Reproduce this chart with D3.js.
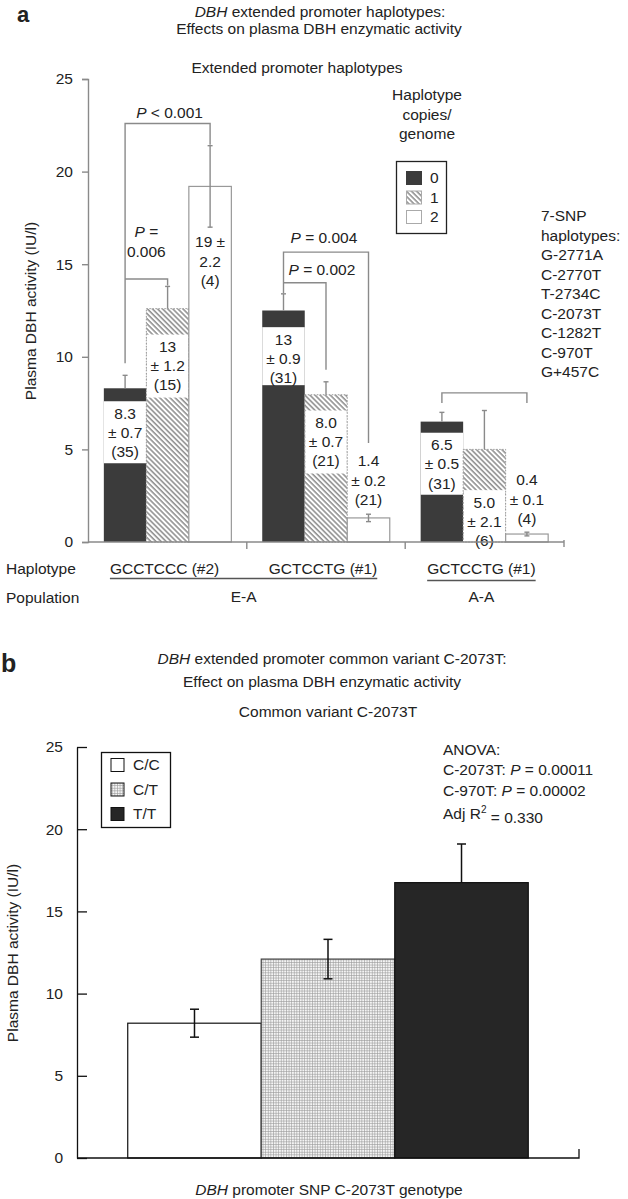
<!DOCTYPE html>
<html>
<head>
<meta charset="utf-8">
<script src="https://cdn.jsdelivr.net/npm/d3@7"></script>
<style>
  html, body { margin: 0; padding: 0; background: #fff; }
  svg { display: block; }
  text { font-family: "Liberation Sans", Arial, Helvetica, sans-serif; fill: #222; }
</style>
</head>
<body>
<svg id="chart" width="628" height="1199"></svg>
<script>
// ---------------- DATA ----------------
// Panel a
const haplotypes = ["GCCTCCC (#2)", "GCTCCTG (#1)", "GCTCCTG (#1)"];
const populations = [{ name: "E-A", groups: [0, 1] }, { name: "A-A", groups: [2] }];
const copies = ["0", "1", "2"];
const meansA = [[8.3, 12.6, 19.2], [12.5, 7.95, 1.3], [6.5, 5.0, 0.43]];
const semA = [[0.7, 1.2, 2.2], [0.9, 0.7, 0.2], [0.5, 2.1, 0.1]];
const meanLabels = [["8.3", "13", "19"], ["13", "8.0", "1.4"], ["6.5", "5.0", "0.4"]];
const semLabels = [["0.7", "1.2", "2.2"], ["0.9", "0.7", "0.2"], ["0.5", "2.1", "0.1"]];
const nLabels = [["(35)", "(15)", "(4)"], ["(31)", "(21)", "(21)"], ["(31)", "(6)", "(4)"]];
const pLabels = ["< 0.001", "= 0.006", "= 0.004", "= 0.002", ""];
const snpList = ["7-SNP", "haplotypes:", "G-2771A", "C-2770T", "T-2734C", "C-2073T", "C-1282T", "C-970T", "G+457C"];
const yTicks = [0, 5, 10, 15, 20, 25];

// Panel b
const genotypes = ["C/C", "C/T", "T/T"];
const meansB = [8.2, 12.1, 16.75];
const semB = [0.85, 1.2, 2.35];
const anovaLines = ["ANOVA:", "C-2073T: P = 0.00011", "C-970T: P = 0.00002", "Adj R2 = 0.330"];

// ---------------- LAYOUT ----------------
const FS = 15.5;
const svg = d3.select("#chart");
const defs = svg.append("defs");

defs.append("pattern").attr("id", "hatch").attr("patternUnits", "userSpaceOnUse")
  .attr("width", 3.6).attr("height", 3.6).attr("patternTransform", "rotate(-45)")
  .call(p => {
    p.append("rect").attr("width", 3.6).attr("height", 3.6).attr("fill", "#fff");
    p.append("line").attr("x1", 1).attr("y1", 0).attr("x2", 1).attr("y2", 3.6)
      .attr("stroke", "#8a8a8a").attr("stroke-width", 1.5);
  });
defs.append("pattern").attr("id", "grid").attr("patternUnits", "userSpaceOnUse")
  .attr("width", 2.6).attr("height", 2.6)
  .call(p => {
    p.append("rect").attr("width", 2.6).attr("height", 2.6).attr("fill", "#f4f4f4");
    p.append("path").attr("d", "M0,0.3H2.6M0.3,0V2.6").attr("stroke", "#9a9a9a").attr("stroke-width", 0.7);
  });

const grayLine = "#8a8a8a";
const darkFill = "#3b3b3b";
const fillA = ["#3b3b3b", "url(#hatch)", "#fff"];

function txt(g, x, y, s, opts = {}) {
  const t = g.append("text").attr("x", x).attr("y", y).attr("dy", "0.35em")
    .attr("font-size", opts.fs || FS).attr("text-anchor", opts.anchor || "middle");
  if (opts.weight) t.attr("font-weight", opts.weight);
  if (opts.italic) t.attr("font-style", "italic");
  t.text(s);
  return t;
}
function pText(g, x, y, rest, anchor) {
  const t = g.append("text").attr("x", x).attr("y", y).attr("dy", "0.35em")
    .attr("font-size", FS).attr("text-anchor", anchor || "middle");
  t.append("tspan").attr("font-style", "italic").text("P");
  t.append("tspan").text(" " + rest);
  return t;
}

// ================= PANEL A =================
const gA = svg.append("g");
const yA = d3.scaleLinear().domain([0, 25]).range([542, 79]);
const xG = d3.scaleBand().domain([0, 1, 2]).range([88, 564]).paddingInner(0.195).paddingOuter(0.1);
const xC = d3.scaleBand().domain(copies).range([0, xG.bandwidth()]);
const bw = xC.bandwidth();
const cx = (g, c) => xG(g) + xC(copies[c]) + bw / 2;

// titles
gA.append("text").attr("x", 17).attr("y", 22).attr("font-size", 22).attr("font-weight", "bold")
  .attr("text-anchor", "start").text("a");
{
  const t = gA.append("text").attr("x", 320).attr("y", 12).attr("dy", "0.35em")
    .attr("font-size", FS).attr("text-anchor", "middle");
  t.append("tspan").attr("font-style", "italic").text("DBH");
  t.append("tspan").text(" extended promoter haplotypes:");
}
txt(gA, 319, 29, "Effects on plasma DBH enzymatic activity");
txt(gA, 297, 68, "Extended promoter haplotypes");

// label box layout (value units: top of white box inside bar), and text start for white bars
const boxTop = [[7.6, 11.2, null], [11.6, 7.1, null], [5.9, 2.8, null]];
const whiteTextY = [[null, null, 16.2], [null, null, 4.37], [null, null, 3.35]];
const boxH = [[62, 63, 0], [58, 63, 0], [62, 58, 0]];

// bars
meansA.forEach((row, g) => {
  row.forEach((v, c) => {
    const x0 = xG(g) + xC(copies[c]);
    gA.append("rect").attr("x", x0).attr("y", yA(v)).attr("width", bw)
      .attr("height", yA(0) - yA(v)).attr("fill", fillA[c]);
    if (boxTop[g][c] !== null) {
      gA.append("rect").attr("x", x0 + (c === 1 ? 0.5 : 0)).attr("y", yA(boxTop[g][c]))
        .attr("width", bw - (c === 1 ? 1 : 0)).attr("height", boxH[g][c]).attr("fill", "#fff");
    }
    if (c === 1) {
      gA.append("rect").attr("x", x0).attr("y", yA(v)).attr("width", bw)
        .attr("height", yA(0) - yA(v)).attr("fill", "none").attr("stroke", "#999")
        .attr("stroke-width", 1).attr("stroke-dasharray", "1.5,1.5");
    } else if (c === 2) {
      gA.append("rect").attr("x", x0).attr("y", yA(v)).attr("width", bw)
        .attr("height", yA(0) - yA(v)).attr("fill", "none").attr("stroke", "#999").attr("stroke-width", 1.2);
    }
  });
});

// error bars
meansA.forEach((row, g) => {
  row.forEach((v, c) => {
    const x = cx(g, c), s = semA[g][c];
    const lo = c === 2 ? v - s : v;
    gA.append("line").attr("x1", x).attr("x2", x).attr("y1", yA(v + s)).attr("y2", yA(lo))
      .attr("stroke", grayLine).attr("stroke-width", 1.4);
    gA.append("line").attr("x1", x - 2.5).attr("x2", x + 2.5).attr("y1", yA(v + s)).attr("y2", yA(v + s))
      .attr("stroke", grayLine).attr("stroke-width", 1.4);
    if (c === 2) {
      gA.append("line").attr("x1", x - 2.5).attr("x2", x + 2.5).attr("y1", yA(lo)).attr("y2", yA(lo))
        .attr("stroke", grayLine).attr("stroke-width", 1.4);
    }
  });
});

// value labels
meansA.forEach((row, g) => {
  row.forEach((v, c) => {
    const x = cx(g, c);
    let y0;
    const lines = c === 2 && g === 0
      ? [meanLabels[g][c] + " \u00b1", semLabels[g][c], nLabels[g][c]]
      : [meanLabels[g][c], "\u00b1 " + semLabels[g][c], nLabels[g][c]];
    if (boxTop[g][c] !== null) y0 = yA(boxTop[g][c]) + 12;
    else y0 = yA(whiteTextY[g][c]);
    lines.forEach((s, i) => txt(gA, x, y0 + i * 19.2, s));
  });
});

// significance brackets (value units)
const brackets = [
  { g: 0, a: 0, b: 2, top: 22.6, aEnd: 9.65, bEnd: 21.45 },
  { g: 0, a: 0, b: 1, top: 14.2, aEnd: null, bEnd: 13.85 },
  { g: 1, a: 0, b: 2, top: 15.65, aEnd: 13.45, bEnd: 5.35 },
  { g: 1, a: 0, b: 1, top: 14.0, aEnd: null, bEnd: 9.3 },
  { g: 2, a: 0, b: 2, top: 8.05, aEnd: 7.5, bEnd: 7.5 }
];
brackets.forEach(br => {
  const xa = cx(br.g, br.a), xb = cx(br.g, br.b);
  let d = `M${xb},${yA(br.bEnd)}V${yA(br.top)}H${xa}`;
  if (br.aEnd !== null) d += `V${yA(br.aEnd)}`;
  gA.append("path").attr("d", d).attr("fill", "none").attr("stroke", grayLine).attr("stroke-width", 1.4);
});
// bracket labels
{
  const b0 = brackets[0];
  pText(gA, (cx(0, 0) + cx(0, 2)) / 2 + 2, yA(b0.top) - 11, pLabels[0]);
  const b1 = brackets[1];
  const xm = (cx(0, 0) + cx(0, 1)) / 2;
  const t = gA.append("text").attr("x", xm).attr("y", yA(b1.top) - 47).attr("dy", "0.35em")
    .attr("font-size", FS).attr("text-anchor", "middle");
  t.append("tspan").attr("font-style", "italic").text("P");
  t.append("tspan").text(" =");
  txt(gA, xm, yA(b1.top) - 27, pLabels[1].replace("= ", ""));
  pText(gA, cx(1, 0) + 7, yA(brackets[2].top) - 15, pLabels[2], "start");
  pText(gA, cx(1, 0) + 5, yA(brackets[3].top) - 13, pLabels[3], "start");
}

// y axis
const axA = gA.append("g").attr("transform", "translate(88,0)")
  .call(d3.axisLeft(yA).tickValues(yTicks).tickSize(6).tickPadding(9));
axA.selectAll("path,line").attr("stroke", grayLine).attr("stroke-width", 1.4);
axA.selectAll("text").attr("font-size", FS).attr("font-family", "Liberation Sans, Arial, sans-serif").attr("fill", "#222");
// x baseline
gA.append("line").attr("x1", 88).attr("x2", 564).attr("y1", yA(0)).attr("y2", yA(0))
  .attr("stroke", grayLine).attr("stroke-width", 1.4);
[0, 1].forEach(g => {
  const xt = xG(g) + xG.bandwidth() + xG.step() * xG.paddingInner() / 2;
  gA.append("line").attr("x1", xt).attr("x2", xt).attr("y1", yA(0)).attr("y2", yA(0) + 7)
    .attr("stroke", grayLine).attr("stroke-width", 1.4);
});
gA.append("line").attr("x1", 564).attr("x2", 564).attr("y1", yA(0) - 2).attr("y2", yA(0) + 5)
  .attr("stroke", grayLine).attr("stroke-width", 1.4);

// y label
gA.append("text").attr("transform", "translate(31,311) rotate(-90)").attr("dy", "0.35em")
  .attr("text-anchor", "middle").attr("font-size", FS).text("Plasma DBH activity (IU/l)");

// x labels
txt(gA, 6, 569, "Haplotype", { anchor: "start" });
txt(gA, 6, 598, "Population", { anchor: "start" });
const hapText = haplotypes.map((h, g) => txt(gA, xG(g) + xG.bandwidth() / 2 - 3, 569, h));
populations.forEach(p => {
  const first = hapText[p.groups[0]].node().getBBox();
  const last = hapText[p.groups[p.groups.length - 1]].node().getBBox();
  const x1 = first.x, x2 = last.x + last.width;
  const ly = p.name === "E-A" ? 578.5 : 580.5;
  gA.append("line").attr("x1", x1).attr("x2", x2).attr("y1", ly).attr("y2", ly)
    .attr("stroke", "#555").attr("stroke-width", 1.3);
  txt(gA, (x1 + x2) / 2, 597, p.name);
});

// legend (copies)
txt(gA, 427, 95, "Haplotype");
txt(gA, 427, 115, "copies/");
txt(gA, 427, 134, "genome");
gA.append("rect").attr("x", 396.5).attr("y", 161.5).attr("width", 50).attr("height", 72)
  .attr("fill", "#fff").attr("stroke", "#222").attr("stroke-width", 1.3);
copies.forEach((c, i) => {
  const yc = 178 + i * 19.5;
  gA.append("rect").attr("x", 406.5).attr("y", yc - 6.5).attr("width", 15).attr("height", 13)
    .attr("fill", fillA[i]).attr("stroke", i === 0 ? darkFill : "#aaa").attr("stroke-width", 1);
  txt(gA, 430, yc, c, { anchor: "start" });
});

// SNP list
snpList.forEach((s, i) => txt(gA, 541, 216 + i * 19.5, s, { anchor: "start" }));

// ================= PANEL B =================
const gB = svg.append("g");
const yB = d3.scaleLinear().domain([0, 25]).range([1158, 747]);
const xB = d3.scaleBand().domain(genotypes).range([77, 579]).paddingInner(0).paddingOuter(0.38);
const fillB = ["#fff", "url(#grid)", "#262626"];

gB.append("text").attr("x", 1).attr("y", 672).attr("font-size", 25).attr("font-weight", "bold")
  .attr("text-anchor", "start").text("b");
{
  const t = gB.append("text").attr("x", 332).attr("y", 659).attr("dy", "0.35em")
    .attr("font-size", FS).attr("text-anchor", "middle");
  t.append("tspan").attr("font-style", "italic").text("DBH");
  t.append("tspan").text(" extended promoter common variant C-2073T:");
}
txt(gB, 322, 682, "Effect on plasma DBH enzymatic activity");
txt(gB, 328, 712, "Common variant C-2073T");

genotypes.forEach((gt, i) => {
  gB.append("rect").attr("x", xB(gt)).attr("y", yB(meansB[i])).attr("width", xB.bandwidth())
    .attr("height", yB(0) - yB(meansB[i])).attr("fill", fillB[i])
    .attr("stroke", i === 1 ? "#444" : "#111").attr("stroke-width", 1.2);
});
genotypes.forEach((gt, i) => {
  const x = xB(gt) + xB.bandwidth() / 2, hi = meansB[i] + semB[i];
  // the lower half of the dark bar's whisker is hidden inside the bar
  const lo = i === 2 ? meansB[i] : meansB[i] - semB[i];
  gB.append("line").attr("x1", x).attr("x2", x).attr("y1", yB(hi)).attr("y2", yB(lo))
    .attr("stroke", "#111").attr("stroke-width", 1.5);
  const caps = i === 2 ? [hi] : [hi, lo];
  caps.forEach(v => gB.append("line").attr("x1", x - 4.5).attr("x2", x + 4.5)
    .attr("y1", yB(v)).attr("y2", yB(v)).attr("stroke", "#111").attr("stroke-width", 1.5));
});

const axB = gB.append("g").attr("transform", "translate(77,0)")
  .call(d3.axisLeft(yB).tickValues(yTicks).tickSize(-10).tickSizeOuter(0).tickPadding(14));
axB.selectAll("path,line").attr("stroke", "#111").attr("stroke-width", 1.3);
axB.selectAll("text").attr("font-size", FS).attr("font-family", "Liberation Sans, Arial, sans-serif").attr("fill", "#222");
gB.append("path").attr("d", `M77,${yB(0)}H579V${yB(0) - 9}`).attr("fill", "none")
  .attr("stroke", "#111").attr("stroke-width", 1.3);

gB.append("text").attr("transform", "translate(13,953) rotate(-90)").attr("dy", "0.35em")
  .attr("text-anchor", "middle").attr("font-size", FS).text("Plasma DBH activity (IU/l)");
{
  const t = gB.append("text").attr("x", 329).attr("y", 1190).attr("dy", "0.35em")
    .attr("font-size", FS).attr("text-anchor", "middle");
  t.append("tspan").attr("font-style", "italic").text("DBH");
  t.append("tspan").text(" promoter SNP C-2073T genotype");
}

// legend b
gB.append("rect").attr("x", 101.5).attr("y", 752.5).attr("width", 69).attr("height", 75)
  .attr("fill", "#fff").attr("stroke", "#111").attr("stroke-width", 1.3);
genotypes.forEach((gt, i) => {
  const yc = 765 + i * 24.5;
  gB.append("rect").attr("x", 111).attr("y", yc - 6.5).attr("width", 13).attr("height", 13)
    .attr("fill", fillB[i]).attr("stroke", "#111").attr("stroke-width", 1);
  txt(gB, 133, yc, gt, { anchor: "start" });
});

// ANOVA text
const anovaY = [750, 770, 791, 814];
anovaLines.forEach((s, i) => {
  const t = gB.append("text").attr("x", 443).attr("y", anovaY[i]).attr("dy", "0.35em")
    .attr("font-size", FS).attr("text-anchor", "start");
  if (s.includes(" P = ")) {
    const [pre, post] = s.split(" P ");
    t.append("tspan").text(pre + " ");
    t.append("tspan").attr("font-style", "italic").text("P");
    t.append("tspan").text(" " + post);
  } else if (s.startsWith("Adj R2")) {
    t.append("tspan").text("Adj R");
    t.append("tspan").attr("font-size", 10).attr("dy", "-0.6em").text("2");
    t.append("tspan").attr("dy", "0.6em").text(s.replace("Adj R2", ""));
  } else {
    t.text(s);
  }
});
</script>
</body>
</html>
